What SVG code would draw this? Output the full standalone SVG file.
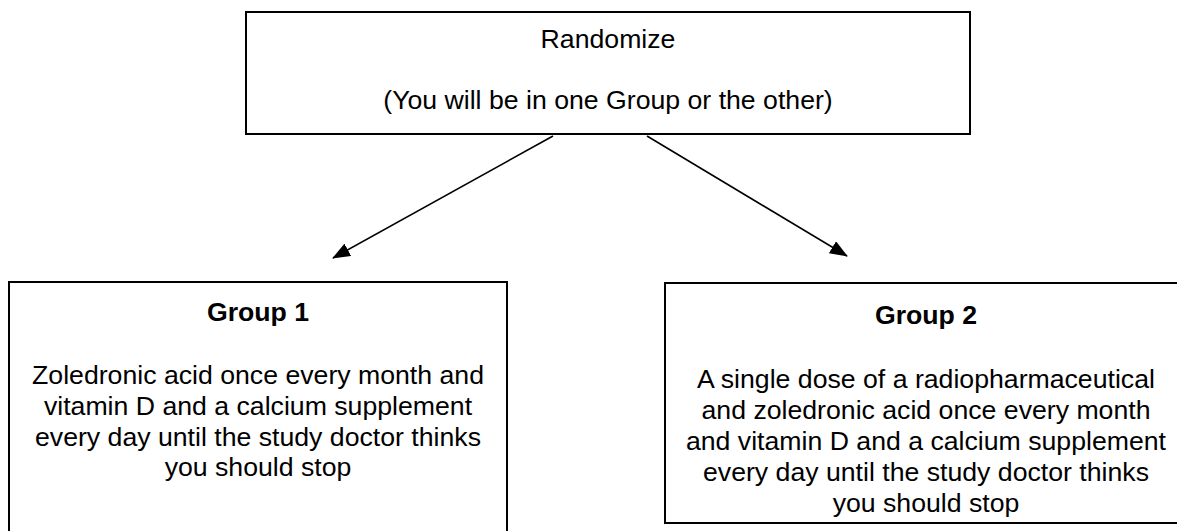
<svg xmlns="http://www.w3.org/2000/svg" width="1177" height="531" viewBox="0 0 1177 531">
<style>
.box{fill:#fff;stroke:#000;stroke-width:2}
.t{font-family:"Liberation Sans",Arial,sans-serif;font-size:26.67px;fill:#000;text-anchor:middle}
.b{font-weight:bold}
.c{stroke:#000;stroke-width:1.6;fill:none}
</style>
<defs>
<marker id="ah" viewBox="0 0 18 14" refX="17" refY="7" markerWidth="18" markerHeight="14" orient="auto" markerUnits="userSpaceOnUse">
<path d="M0,0 L18,7 L0,14 Z" fill="#000"/>
</marker>
</defs>
<rect width="1177" height="531" fill="#fff"/>
<g id="randomize">
<rect class="box" x="246" y="12" width="724" height="122"/>
<text class="t" x="608" y="48">Randomize</text>
<text class="t" x="608" y="109">(You will be in one Group or the other)</text>
</g>
<g id="group1">
<rect class="box" x="9" y="282" width="498" height="260"/>
<text class="t b" x="258" y="321">Group 1</text>
<text class="t" x="258" y="384">Zoledronic acid once every month and</text>
<text class="t" x="258" y="415">vitamin D and a calcium supplement</text>
<text class="t" x="258" y="446">every day until the study doctor thinks</text>
<text class="t" x="258" y="476">you should stop</text>
</g>
<g id="group2">
<rect class="box" x="665" y="283" width="540" height="240"/>
<text class="t b" x="926" y="324">Group 2</text>
<text class="t" x="926" y="388">A single dose of a radiopharmaceutical</text>
<text class="t" x="926" y="419">and zoledronic acid once every month</text>
<text class="t" x="926" y="450">and vitamin D and a calcium supplement</text>
<text class="t" x="926" y="481">every day until the study doctor thinks</text>
<text class="t" x="926" y="512">you should stop</text>
</g>
<g id="connectors">
<line class="c" x1="553" y1="136" x2="333" y2="258" marker-end="url(#ah)"/>
<line class="c" x1="647" y1="136" x2="847" y2="256" marker-end="url(#ah)"/>
</g>
</svg>
